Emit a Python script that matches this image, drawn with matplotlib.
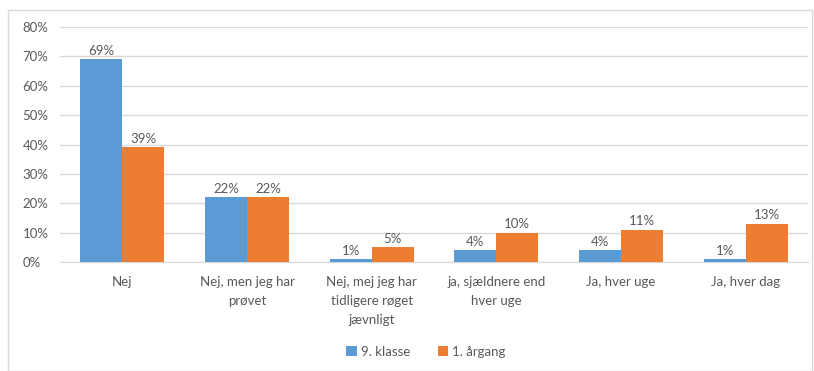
import matplotlib
matplotlib.use("Agg")
import matplotlib.pyplot as plt
import numpy as np
from matplotlib.patches import Rectangle

categories = [
    "Nej",
    "Nej, men jeg har\nprøvet",
    "Nej, mej jeg har\ntidligere røget\njævnligt",
    "ja, sjældnere end\nhver uge",
    "Ja, hver uge",
    "Ja, hver dag",
]
series_names = ["9. klasse", "1. årgang"]
klasse9 = [69, 22, 1, 4, 4, 1]
aargang1 = [39, 22, 5, 10, 11, 13]
y_ticks = [0, 10, 20, 30, 40, 50, 60, 70, 80]

BLUE = "#5B9BD5"
ORANGE = "#ED7D31"
TEXT = "#595959"
GRID = "#D9D9D9"

plt.rcParams["font.family"] = ["Lato", "DejaVu Sans"]

fig = plt.figure(figsize=(8.14, 3.71), dpi=100)
fig.patch.set_facecolor("white")

# chart frame
fig.add_artist(Rectangle((8 / 814, 0), (812 - 8) / 814, 1 - 10 / 371,
                         transform=fig.transFigure, fill=False,
                         edgecolor="#D9D9D9", linewidth=1))

ax = fig.add_axes([60 / 814, 1 - 262 / 371, 748 / 814, (262 - 27) / 371])

x = np.arange(len(categories))
w = 0.337
b1 = ax.bar(x - w / 2, klasse9, w, color=BLUE, label=series_names[0], zorder=3)
b2 = ax.bar(x + w / 2, aargang1, w, color=ORANGE, label=series_names[1], zorder=3)

for bars, vals in ((b1, klasse9), (b2, aargang1)):
    for r, v in zip(bars, vals):
        ax.text(r.get_x() + r.get_width() / 2, v + 0.8, f"{v}%",
                ha="center", va="bottom", fontsize=9.5, color=TEXT)

ax.set_xlim(-0.5, len(categories) - 0.5)
ax.set_ylim(0, 80)
ax.set_yticks(y_ticks)
ax.set_yticklabels([f"{t}%" for t in y_ticks])
ax.set_xticks(x)
ax.set_xticklabels(categories, linespacing=1.7)
ax.tick_params(axis="both", length=0, colors=TEXT, labelsize=9.5)
ax.tick_params(axis="x", pad=10)
ax.tick_params(axis="y", pad=27)
for lbl in ax.get_yticklabels():
    lbl.set_horizontalalignment("left")

ax.grid(axis="y", color=GRID, linewidth=1, zorder=0)
for s in ("top", "right", "left"):
    ax.spines[s].set_visible(False)
ax.spines["bottom"].set_color(GRID)

leg = fig.legend(handles=[b1, b2], labels=series_names, loc="center",
                 bbox_to_anchor=(426 / 814, 1 - 352 / 371), ncol=2,
                 frameon=False, fontsize=9.5, handlelength=0.8,
                 handleheight=0.8, handletextpad=0.3, columnspacing=2.1)
for t in leg.get_texts():
    t.set_color(TEXT)

fig.savefig("out.png", dpi=100)
